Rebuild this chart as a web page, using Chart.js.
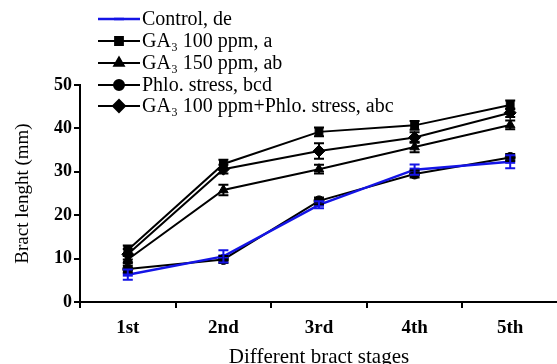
<!DOCTYPE html>
<html>
<head>
<meta charset="utf-8">
<script src="https://cdn.jsdelivr.net/npm/chart.js@4.4.0/dist/chart.umd.min.js"></script>
<style>
    html, body { margin: 0; padding: 0; background: #fff; overflow: hidden; }
    #wrap { width: 557px; height: 364px; overflow: hidden; }
</style>
</head>
<body>
<div id="wrap"><canvas id="myChart" width="567" height="364"></canvas></div>
<script>
var stages = ['1st', '2nd', '3rd', '4th', '5th'];
var yTicks = [0, 10, 20, 30, 40, 50];

var seriesNames = ['Control, de', 'GA\u2083 100 ppm, a', 'GA\u2083 150 ppm, ab', 'Phlo. stress, bcd', 'GA\u2083 100 ppm+Phlo. stress, abc'];
var control = [6.3, 10.5, 22.4, 30.5, 32.3];
var ga100 = [12.0, 31.8, 39.2, 40.7, 45.4];
var ga150 = [9.8, 25.8, 30.6, 35.7, 40.8];
var phlo = [7.6, 9.8, 23.3, 29.5, 33.3];
var gaPhlo = [11.0, 30.6, 34.8, 37.9, 43.6];

var controlErr = [1.2, 1.4, 0.8, 1.2, 1.5];
var ga100Err = [1.0, 1.0, 1.0, 1.0, 1.0];
var ga150Err = [0.8, 1.2, 1.0, 1.2, 1.0];
var phloErr = [0.8, 0.8, 0.8, 0.8, 0.8];
var gaPhloErr = [1.2, 1.0, 1.8, 1.2, 1.0];

(function() {
    'use strict';

    var serif = '"Liberation Serif", "DejaVu Serif", serif';

    var makeSet = function(name, values, errors, color, style, radius, width) {
        return {
            label: name,
            data: values,
            errors: errors,
            borderColor: color,
            backgroundColor: color,
            borderWidth: width,
            pointStyle: style,
            pointRadius: radius,
            pointBorderWidth: style === 'line' ? 4 : 1,
            pointBackgroundColor: color,
            pointBorderColor: color,
            tension: 0
        };
    };

    //error bars, drawn through the y scale
    var errorBars = {
        id: 'errorBars',
        afterDatasetsDraw: function(chart) {
            var c = chart.ctx;
            var y = chart.scales.y;
            c.save();
            for (var d = chart.data.datasets.length - 1; d >= 0; d--) {
                var ds = chart.data.datasets[d];
                var meta = chart.getDatasetMeta(d);
                c.strokeStyle = ds.borderColor;
                c.lineWidth = 2;
                for (var i = 0; i < ds.data.length; i++) {
                    var x = meta.data[i].x;
                    var top = y.getPixelForValue(ds.data[i] + ds.errors[i]);
                    var bot = y.getPixelForValue(ds.data[i] - ds.errors[i]);
                    c.beginPath();
                    c.moveTo(x, top); c.lineTo(x, bot);
                    c.moveTo(x - 5, top); c.lineTo(x + 5, top);
                    c.moveTo(x - 5, bot); c.lineTo(x + 5, bot);
                    c.stroke();
                }
            }
            c.restore();
        }
    };

    //legend stacked at the top left
    var legendBox = {
        id: 'legendBox',
        afterDraw: function(chart) {
            var c = chart.ctx;
            var rows = [19, 41, 63, 85, 106];
            c.save();
            c.font = '20px ' + serif;
            c.textBaseline = 'middle';
            chart.data.datasets.forEach(function(ds, i) {
                var yy = rows[i];
                c.strokeStyle = ds.borderColor;
                c.lineWidth = ds.borderWidth;
                c.beginPath();
                c.moveTo(98, yy); c.lineTo(140, yy);
                c.stroke();
                c.fillStyle = ds.borderColor;
                Chart.helpers.drawPoint(c, {
                    pointStyle: ds.pointStyle,
                    radius: ds.pointRadius,
                    borderWidth: ds.pointBorderWidth,
                    rotation: 0
                }, 119, yy);
                c.fillStyle = '#000';
                c.fillText(ds.label, 142, yy + 1);
            });
            c.restore();
        }
    };

    var ctx = document.getElementById('myChart');
    new Chart(ctx, {
        type: 'line',
        data: {
            labels: stages,
            datasets: [
                makeSet(seriesNames[0], control, controlErr, '#1414e6', 'line', 5, 2.5),
                makeSet(seriesNames[1], ga100, ga100Err, '#000', 'rect', 5.5, 2),
                makeSet(seriesNames[2], ga150, ga150Err, '#000', 'triangle', 5.5, 2),
                makeSet(seriesNames[3], phlo, phloErr, '#000', 'circle', 5, 2),
                makeSet(seriesNames[4], gaPhlo, gaPhloErr, '#000', 'rectRot', 6, 2)
            ]
        },
        plugins: [errorBars, legendBox],
        options: {
            responsive: false,
            animation: false,
            layout: { padding: { top: 85, right: 0, left: 0, bottom: 0 } },
            plugins: { legend: { display: false }, tooltip: { enabled: false } },
            scales: {
                x: {
                    offset: true,
                    afterFit: function(s) { s.height = 62; },
                    grid: { offset: true, drawOnChartArea: false, drawTicks: true, tickLength: 6, color: '#000', lineWidth: 2 },
                    border: { color: '#000', width: 2 },
                    ticks: { color: '#000', padding: 9, font: { family: serif, size: 19, weight: 'bold' } },
                    title: { display: true, text: 'Different bract stages', color: '#000', padding: { top: 0, bottom: -6 }, font: { family: serif, size: 21 } }
                },
                y: {
                    min: 0,
                    max: 50,
                    afterFit: function(s) { s.width = 80; },
                    afterBuildTicks: function(s) { s.ticks = yTicks.map(function(v) { return { value: v }; }); },
                    grid: { drawOnChartArea: false, drawTicks: true, tickLength: 6, color: '#000', lineWidth: 2 },
                    border: { color: '#000', width: 2 },
                    ticks: { color: '#000', padding: 2, font: { family: serif, size: 18, weight: 'bold' } },
                    title: { display: true, text: 'Bract lenght (mm)', color: '#000', padding: { top: 12, bottom: 0 }, font: { family: serif, size: 19 } }
                }
            }
        }
    });
})();
</script>
</body>
</html>
